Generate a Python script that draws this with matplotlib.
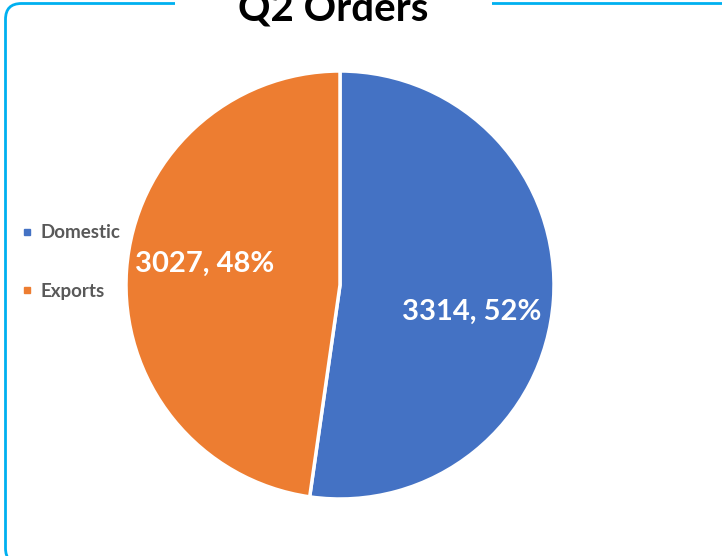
import matplotlib.pyplot as plt
from matplotlib.patches import FancyBboxPatch, Rectangle
from matplotlib.lines import Line2D

# data
categories = ['Domestic', 'Exports']
orders = [3314, 3027]
colors = ['#4472C4', '#ED7D31']

plt.rcParams['font.family'] = ['Lato', 'DejaVu Sans']

W, H = 722, 556
fig = plt.figure(figsize=(W / 100, H / 100), dpi=100)
fig.patch.set_facecolor('white')

# rounded chart frame (runs off right and bottom edge)
frame = FancyBboxPatch((5.5 / W, -8 / H), 740 / W, (H - 3.5 + 8) / H,
                       boxstyle='round,pad=0,rounding_size=0.022',
                       transform=fig.transFigure, facecolor='none',
                       edgecolor='#00B0F0', linewidth=2.0, zorder=1,
                       mutation_aspect=W / H)
fig.patches.append(frame)
# gap in the frame behind the title
gap = Rectangle((175 / W, 1 - 12 / H), 317 / W, 12 / H, transform=fig.transFigure,
                facecolor='white', edgecolor='none', zorder=2)
fig.patches.append(gap)

# title sits partly above the top edge, as in the reference
fig.text(333 / W, 1 - 21 / H, 'Q2 Orders', ha='center', va='baseline',
         fontsize=29, fontweight='bold', color='black', zorder=3)

# pie
cx, cy, r = 340, 285, 214
ax = fig.add_axes([(cx - r) / W, (H - cy - r) / H, 2 * r / W, 2 * r / H])
total = sum(orders)
wedges, texts = ax.pie(orders, colors=colors, startangle=90, counterclock=False,
                       radius=1, wedgeprops=dict(edgecolor='white', linewidth=2.5),
                       labels=[f'{v}, {v / total:.0%}' for v in orders],
                       labeldistance=0.63,
                       textprops=dict(color='white', fontsize=21, fontweight='bold'))
# label placement as in the reference
label_pos = [(0.617, -0.126), (-0.631, 0.098)]
for t, p in zip(texts, label_pos):
    t.set_position(p)
    t.set_ha('center')
    t.set_va('center')
ax.set_xlim(-1, 1)
ax.set_ylim(-1, 1)
ax.set_aspect('auto')
ax.axis('off')

# legend
handles = [Line2D([], [], marker='s', linestyle='none', markersize=5,
                  markerfacecolor=c, markeredgecolor=c) for c in colors]
fig.legend(handles, categories, loc='center left',
           bbox_to_anchor=(15 / W, 1 - 262 / H), frameon=False,
           prop=dict(size=13.5, weight='bold'), labelcolor='#595959',
           labelspacing=2.2, handlelength=0.5, handletextpad=0.45,
           borderaxespad=0)

fig.savefig('out.png', dpi=100, facecolor='white')
